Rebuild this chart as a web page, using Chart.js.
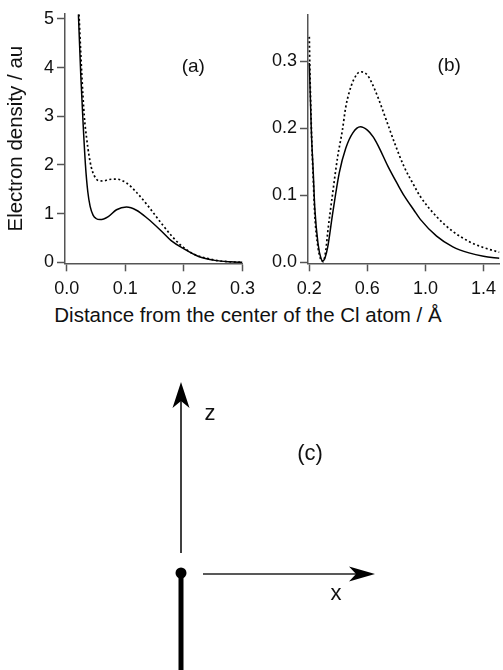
<!DOCTYPE html>
<html>
<head>
<meta charset="utf-8">
<script src="https://cdn.jsdelivr.net/npm/chart.js@4/dist/chart.umd.min.js"></script>
<style>
  html, body { margin: 0; padding: 0; background: #fff; }
  #wrap { position: relative; width: 503px; height: 670px; overflow: hidden; }
  canvas { position: absolute; }
  #xtitle { position: absolute; left: 0; width: 496px; top: 303px; text-align: center;
            font: 20.5px "Liberation Sans", Arial, sans-serif;
            color: #111; line-height: 24px; white-space: nowrap; }
</style>
</head>
<body>
<div id="wrap">
  <canvas id="chartA" width="262" height="300" style="left:0;top:0;width:262px;height:300px"></canvas>
  <canvas id="chartB" width="253" height="300" style="left:250px;top:0;width:253px;height:300px"></canvas>
  <div id="xtitle">Distance from the center of the Cl atom / Å</div>
  <canvas id="diagram" width="503" height="340" style="left:0;top:330px;width:503px;height:340px"></canvas>
</div>
<script>
// panel (a): close to the nucleus
var aSolidX  = [0.020, 0.024, 0.028, 0.032, 0.036, 0.040, 0.045, 0.050, 0.057, 0.071, 0.085, 0.102, 0.119, 0.138, 0.161, 0.180, 0.198, 0.225, 0.253, 0.280, 0.300];
var aSolidY  = [5.09, 3.85, 2.85, 2.00, 1.45, 1.15, 0.97, 0.90, 0.877, 0.94, 1.08, 1.135, 1.07, 0.90, 0.65, 0.43, 0.29, 0.12, 0.04, 0.01, 0.0];
var aDotX    = [0.021, 0.026, 0.030, 0.034, 0.038, 0.042, 0.047, 0.054, 0.062, 0.072, 0.085, 0.102, 0.119, 0.138, 0.161, 0.180, 0.194, 0.215, 0.240, 0.260, 0.280, 0.300];
var aDotY    = [5.09, 3.80, 3.00, 2.55, 2.20, 1.95, 1.78, 1.68, 1.67, 1.70, 1.71, 1.63, 1.44, 1.17, 0.81, 0.53, 0.36, 0.18, 0.08, 0.03, 0.01, 0.0];
var aTicksX  = [0, 0.1, 0.2, 0.3];
var aTicksY  = [0, 1, 2, 3, 4, 5];

// panel (b): outer region
var bSolidX  = [0.200, 0.215, 0.227, 0.238, 0.260, 0.280, 0.292, 0.310, 0.327, 0.361, 0.406, 0.451, 0.500, 0.552, 0.600, 0.640, 0.674, 0.742, 0.809, 0.854, 0.920, 0.965, 1.077, 1.189, 1.300, 1.400, 1.510];
var bSolidY  = [0.297, 0.190, 0.135, 0.080, 0.028, 0.006, 0.002, 0.008, 0.023, 0.073, 0.133, 0.170, 0.193, 0.202, 0.197, 0.187, 0.174, 0.143, 0.116, 0.099, 0.078, 0.064, 0.039, 0.023, 0.014, 0.009, 0.006];
var bDotX    = [0.200, 0.205, 0.211, 0.216, 0.227, 0.238, 0.260, 0.280, 0.296, 0.315, 0.327, 0.361, 0.395, 0.428, 0.450, 0.473, 0.510, 0.552, 0.600, 0.652, 0.742, 0.787, 0.854, 0.920, 0.965, 1.077, 1.189, 1.300, 1.400, 1.510];
var bDotY    = [0.336, 0.277, 0.227, 0.187, 0.125, 0.070, 0.022, 0.004, 0.001, 0.020, 0.045, 0.103, 0.157, 0.197, 0.230, 0.252, 0.274, 0.284, 0.279, 0.257, 0.205, 0.178, 0.142, 0.115, 0.098, 0.068, 0.046, 0.031, 0.022, 0.015];
var bTicksX  = [0.2, 0.6, 1.0, 1.4];
var bTicksY  = [0, 0.1, 0.2, 0.3];

var FONT = '"Liberation Sans", Arial, sans-serif';
Chart.defaults.font.family = FONT;
Chart.defaults.color = '#111';

function pts(xs, ys) {
    return xs.map(function(x, i) { return { x: x, y: ys[i] }; });
}

function line(xs, ys, dotted) {
    return {
        data: pts(xs, ys),
        showLine: true,
        borderColor: '#000',
        borderWidth: dotted ? 1.7 : 1.5,
        borderDash: dotted ? [2, 2.5] : [],
        pointRadius: 0,
        cubicInterpolationMode: 'monotone',
        fill: false
    };
}

function axis(o) {
    return {
        type: 'linear',
        min: o.min,
        max: o.max,
        afterBuildTicks: function(s) { s.ticks = o.ticks.map(function(v) { return { value: v }; }); },
        afterFit: function(s) {
            if (o.width) s.width = o.width;
            if (o.height) s.height = o.height;
        },
        ticks: {
            font: { size: 18 },
            color: '#111',
            padding: o.pad,
            autoSkip: false,
            maxRotation: 0,
            callback: function(v) { return v.toFixed(o.digits); }
        },
        grid: { display: true, drawOnChartArea: false, drawTicks: true, tickLength: 8, tickColor: '#555', tickWidth: 1.5 },
        border: { display: true, color: '#555', width: 1.5 },
        title: o.title ? { display: true, text: o.title, font: { size: 20.5 }, color: '#111', padding: { top: 4, bottom: 0 } } : { display: false }
    };
}

function panelLabel(text, xv, yv) {
    return {
        id: 'panelLabel',
        afterDraw: function(chart) {
            var c = chart.ctx;
            c.save();
            c.font = '19px ' + FONT;
            c.fillStyle = '#111';
            c.textAlign = 'center';
            c.textBaseline = 'middle';
            c.fillText(text, chart.scales.x.getPixelForValue(xv), chart.scales.y.getPixelForValue(yv));
            c.restore();
        }
    };
}

var common = {
    responsive: false,
    animation: false,
    devicePixelRatio: 1,
    plugins: { legend: { display: false }, tooltip: { enabled: false } }
};

new Chart(document.getElementById('chartA'), {
    type: 'scatter',
    data: { datasets: [line(aSolidX, aSolidY, false), line(aDotX, aDotY, true)] },
    options: Object.assign({}, common, {
        layout: { padding: { left: 0, right: 17.4, top: 14, bottom: 0 } },
        scales: {
            x: axis({ min: -0.0029, max: 0.3, ticks: aTicksX, digits: 1, height: 36.7, pad: 7 }),
            y: axis({ min: -0.02, max: 5.1, ticks: aTicksY, digits: 0, width: 65, pad: 3, title: 'Electron density / au' })
        }
    }),
    plugins: [panelLabel('(a)', 0.216, 4.01)]
});

new Chart(document.getElementById('chartB'), {
    type: 'scatter',
    data: { datasets: [line(bSolidX, bSolidY, false), line(bDotX, bDotY, true)] },
    options: Object.assign({}, common, {
        layout: { padding: { left: 0, right: 0, top: 15, bottom: 0 } },
        scales: {
            x: axis({ min: 0.191, max: 1.51, ticks: bTicksX, digits: 1, height: 36.7, pad: 7 }),
            y: axis({ min: -0.0015, max: 0.3686, ticks: bTicksY, digits: 1, width: 58, pad: 3 })
        }
    }),
    plugins: [panelLabel('(b)', 1.164, 0.2925)]
});

// panel (c): orientation sketch, drawn on an empty chart
var sketch = {
    id: 'sketch',
    afterDraw: function(chart) {
        var c = chart.ctx, oy = 330;
        c.save();
        c.translate(0, -oy);
        c.strokeStyle = '#000';
        c.fillStyle = '#000';

        // z axis
        c.lineWidth = 1.5;
        c.beginPath(); c.moveTo(181, 553); c.lineTo(181, 400); c.stroke();
        c.beginPath(); c.moveTo(181, 382); c.lineTo(189.5, 408); c.lineTo(181, 401); c.lineTo(172.5, 408); c.closePath(); c.fill();

        // x axis
        c.strokeStyle = '#222';
        c.beginPath(); c.moveTo(203, 574); c.lineTo(358, 574); c.stroke();
        c.beginPath(); c.moveTo(375, 574); c.lineTo(349, 566.5); c.lineTo(356, 574); c.lineTo(349, 581.5); c.closePath(); c.fill();

        // bond + atom
        c.strokeStyle = '#000';
        c.lineWidth = 5;
        c.beginPath(); c.moveTo(181, 573); c.lineTo(181, 675); c.stroke();
        c.beginPath(); c.arc(181, 573, 5.5, 0, Math.PI * 2); c.fill();

        c.font = '22px ' + FONT;
        c.fillStyle = '#111';
        c.textAlign = 'center';
        c.textBaseline = 'middle';
        c.fillText('z', 210, 414);
        c.fillText('(c)', 310, 454);
        c.fillText('x', 336, 594);
        c.restore();
    }
};

new Chart(document.getElementById('diagram'), {
    type: 'scatter',
    data: { datasets: [] },
    options: Object.assign({}, common, {
        layout: { padding: 0 },
        scales: { x: { display: false }, y: { display: false } }
    }),
    plugins: [sketch]
});
</script>
</body>
</html>
